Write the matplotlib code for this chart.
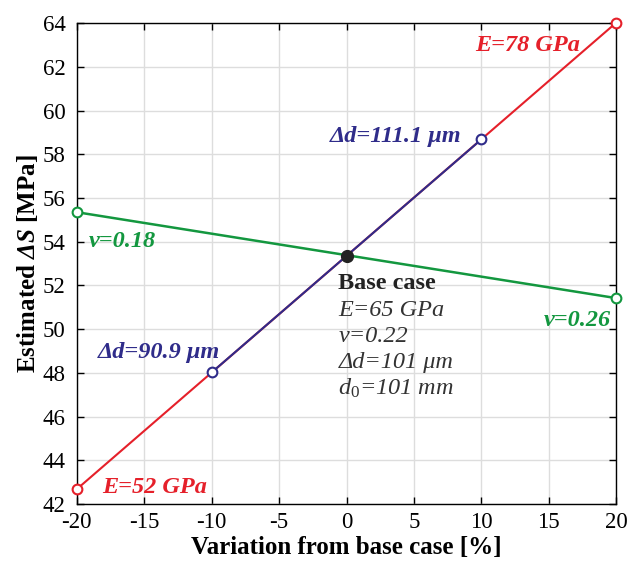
import matplotlib.pyplot as plt

plt.rcParams["font.family"] = ["Liberation Serif", "DejaVu Serif"]
plt.rcParams["mathtext.fontset"] = "custom"
plt.rcParams["mathtext.rm"] = "Liberation Serif"
plt.rcParams["mathtext.it"] = "Liberation Serif:italic"
plt.rcParams["mathtext.bf"] = "Liberation Serif:bold"
plt.rcParams["mathtext.bfit"] = "Liberation Serif:bold:italic"
plt.rcParams["axes.unicode_minus"] = False

# sensitivity of estimated stress to each input (% change from base case)
base_x = 0
base_s = 53.35

e_var = [-20, 20]
e_stress = [42.68, 64.02]
e_labels = ["E=52 GPa", "E=78 GPa"]

dd_var = [-10, 0, 10]
dd_stress = [48.02, 53.35, 58.68]
dd_labels = ["\u0394d=90.9 \u03bcm", "\u0394d=111.1 \u03bcm"]

nu_var = [-20, 20]
nu_stress = [55.35, 51.42]
nu_labels = ["v=0.18", "v=0.26"]

base_lines = ["E=65 GPa", "v=0.22", "\u0394d=101 \u03bcm",
              r"$d_{\mathit{0}}$=101 mm"]

red = "#e5202a"
blue = "#2f2c8a"
green = "#13973f"

fig = plt.figure(figsize=(6.3, 5.65), dpi=100)
ax = fig.add_axes([0.122, 0.108, 0.856, 0.851])

mk = dict(mfc="white", ms=7, mew=1.5, zorder=5, clip_on=False)

# E line runs under the delta-d line
ax.plot(e_var, e_stress, color=red, lw=1.5, zorder=3, clip_on=False)
ax.plot(e_var, e_stress, "o", mec=red, **mk)

ax.plot(dd_var, dd_stress, color=blue, lw=1.5, zorder=4)
ax.plot([dd_var[0], dd_var[-1]], [dd_stress[0], dd_stress[-1]], "o",
        mec=blue, **mk)

ax.plot(nu_var, nu_stress, color=green, lw=1.8, zorder=3)
ax.plot(nu_var, nu_stress, "o", mec=green, **mk)

ax.plot(base_x, base_s, "o", color="#222222", ms=8.5, zorder=6)

lab = dict(fontsize=17.5, fontweight="bold", fontstyle="italic")
ax.text(-18.1, 42.75, e_labels[0], color=red, ha="left", va="center", **lab)
ax.text(17.3, 63.0, e_labels[1], color=red, ha="right", va="center", **lab)
ax.text(-9.4, 48.95, dd_labels[0], color=blue, ha="right", va="center", **lab)
ax.text(8.5, 58.8, dd_labels[1], color=blue, ha="right", va="center", **lab)
ax.text(-19.1, 54.0, nu_labels[0], color=green, ha="left", va="center", **lab)
ax.text(19.6, 50.4, nu_labels[1], color=green, ha="right", va="center", **lab)

# base case description
ax.text(-0.6, 52.1, "Base case", fontsize=17.5, fontweight="bold",
        color="#222222", ha="left", va="center")
for i, line in enumerate(base_lines):
    ax.text(-0.6, 50.85 - 1.19 * i, line, fontsize=17.5, fontstyle="italic",
            color="#333333", ha="left", va="center")

ax.set_xlim(-20, 20)
ax.set_ylim(42, 64)
ax.set_xticks(range(-20, 21, 5))
ax.set_yticks(range(42, 65, 2))
ax.tick_params(direction="in", length=5, width=1, labelsize=16.5,
               top=True, right=True, pad=6)
ax.tick_params(axis="y", pad=8)
ax.grid(True, color="#dddddd", lw=1)
ax.set_axisbelow(True)
for s in ax.spines.values():
    s.set_linewidth(1)

ax.set_xlabel("Variation from base case [%]", fontsize=18, fontweight="bold",
              labelpad=2)
ax.set_ylabel(r"Estimated $\mathbfit{\Delta S}$ [MPa]", fontsize=18,
              fontweight="bold", labelpad=2)

fig.savefig("out.png", dpi=100)
